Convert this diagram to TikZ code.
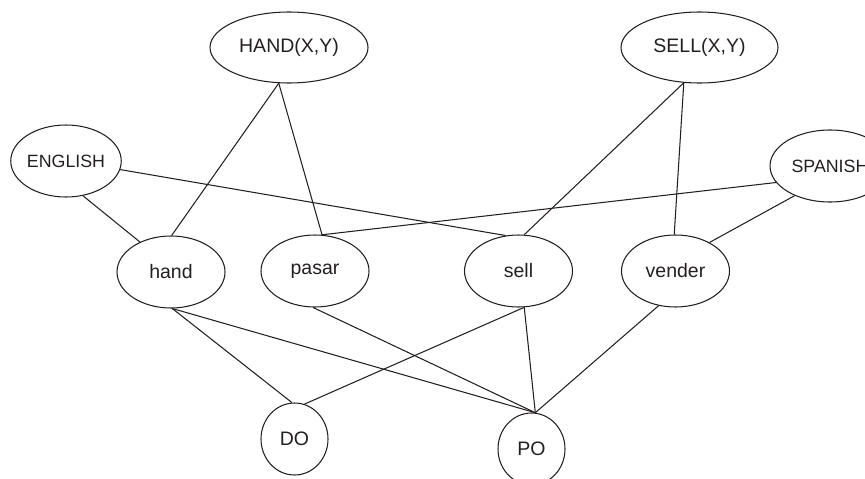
\documentclass[tikz,border=0pt]{standalone}
\usepackage{fontspec}
\setmainfont{Liberation Sans}
\usetikzlibrary{shapes.geometric}
\definecolor{ink}{HTML}{231F20}
\tikzset{
  every picture/.style={x=1pt,y=-1pt},
  ell/.style={ellipse,draw=ink,line width=1.05pt,inner sep=0pt,text=ink,
    font=\fontsize{19.5}{22}\selectfont},
  big/.style={ell,minimum width=158pt,minimum height=71pt},
  mid/.style={ell,minimum width=108pt,minimum height=72pt},
  lang/.style={ell,minimum height=72pt,font=\fontsize{17.8}{20}\selectfont},
  small/.style={ell,minimum width=67pt,minimum height=72pt},
  link/.style={draw=ink,line width=1.05pt}
}
\begin{document}
\begin{tikzpicture}
\useasboundingbox (0,0) rectangle (865,479);
\node[big] (HAND) at (289,47.5) {HAND(X,Y)};
\node[big,minimum width=157pt] (SELL) at (699.5,47.5) {SELL(X,Y)};
\node[lang,minimum width=108pt] (ENG) at (66,161) {ENGLISH};
\node[lang,minimum width=120pt] (SPA) at (830,166) {SPANISH};
\node[mid] (hand) at (171,272) {hand};
\node[mid] (pasar) at (315,271) {pasar};
\node[mid] (sell) at (518.5,271) {sell};
\node[mid] (vender) at (675.5,271) {vender};
\node[small] (DO) at (294.5,439) {DO};
\node[small] (PO) at (531.5,449) {PO};
\draw[link] (HAND.254) -- (hand.89);
\draw[link] (HAND.254) -- (pasar.79);
\draw[link] (ENG.-64) -- (hand.136);
\draw[link] (ENG.-9.5) -- (sell.110.6);
\draw[link] (SELL.246.4) -- (sell.81);
\draw[link] (SELL.246.4) -- (vender.92.4);
\draw[link] (SPA.197) -- (pasar.79);
\draw[link] (SPA.220) -- (vender.40);
\draw[link] (hand.-88) -- (DO.94);
\draw[link] (hand.-88) -- (PO.84);
\draw[link] (pasar.-93) -- (PO.84);
\draw[link] (sell.-81) -- (DO.74);
\draw[link] (sell.-81) -- (PO.84);
\draw[link] (vender.244.8) -- (PO.84);
\end{tikzpicture}
\end{document}
